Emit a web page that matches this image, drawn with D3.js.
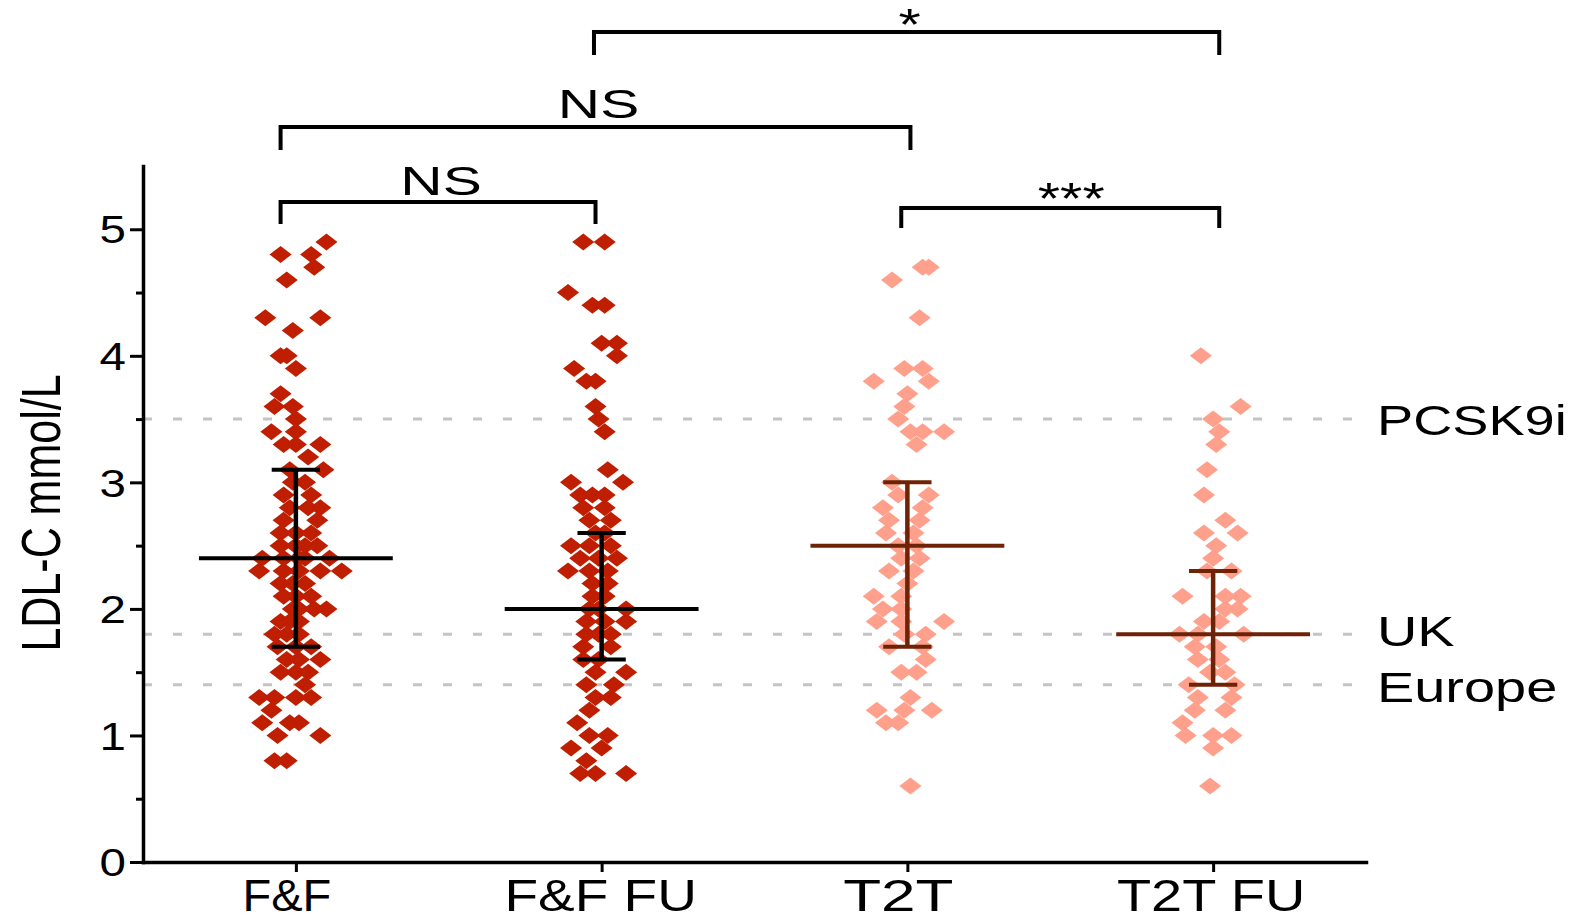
<!DOCTYPE html>
<html>
<head>
<meta charset="utf-8">
<script src="https://cdn.jsdelivr.net/npm/d3@7"></script>
<style>
  html, body { margin: 0; padding: 0; background: #fff; }
  svg { display: block; }
  text { font-family: "Liberation Sans", Arial, sans-serif; fill: #000; }
</style>
</head>
<body>
<div id="chart"></div>
<script>
// categories and summary values
const groups = ["F&F", "F&F FU", "T2T", "T2T FU"];
const means = [2.4, 2.0, 2.5, 1.8];
const sdLow = [1.7, 1.6, 1.7, 1.4];
const sdHigh = [3.1, 2.6, 3.0, 2.3];

// points: [LDL-C value, jitter in category units]
const ffPoints = [
  [4.9, 0.10], [4.8, -0.05], [4.8, 0.05], [4.7, 0.06], [4.6, -0.03],
  [4.3, -0.10], [4.3, 0.08], [4.2, -0.01], [4.0, -0.05], [4.0, -0.03],
  [3.9, 0.00], [3.7, -0.05], [3.6, -0.07], [3.6, -0.01], [3.5, 0.00],
  [3.4, -0.08], [3.4, 0.00], [3.3, -0.04], [3.3, 0.00], [3.3, 0.08],
  [3.2, 0.04], [3.1, -0.02], [3.1, 0.09], [3.0, -0.01], [3.0, 0.03],
  [2.9, -0.04], [2.9, 0.05], [2.8, -0.02], [2.8, 0.08], [2.8, 0.04],
  [2.7, -0.04], [2.7, 0.07], [2.6, -0.05], [2.6, 0.05], [2.6, 0.00],
  [2.5, -0.05], [2.5, 0.03], [2.5, 0.07], [2.5, 0.00],
  [2.4, -0.11], [2.4, -0.04], [2.4, 0.03], [2.4, 0.11], [2.4, 0.01],
  [2.3, -0.12], [2.3, -0.04], [2.3, 0.08], [2.3, 0.15], [2.3, 0.01],
  [2.2, -0.05], [2.2, 0.03], [2.2, -0.01], [2.1, 0.00], [2.1, -0.04], [2.1, 0.05],
  [2.0, -0.01], [2.0, 0.06], [2.0, 0.10], [2.0, 0.01],
  [1.9, -0.05], [1.9, 0.01], [1.9, -0.02], [1.8, -0.07], [1.8, -0.03], [1.8, 0.01],
  [1.7, -0.06], [1.7, 0.05], [1.7, 0.00], [1.6, -0.03], [1.6, 0.08], [1.6, 0.01],
  [1.5, -0.05], [1.5, 0.04], [1.5, 0.00], [1.4, 0.03],
  [1.3, -0.12], [1.3, -0.07], [1.3, 0.00], [1.3, 0.05], [1.2, -0.08],
  [1.1, -0.11], [1.1, -0.02], [1.1, 0.01], [1.0, -0.06], [1.0, 0.08],
  [0.8, -0.07], [0.8, -0.03]
];
const ffFuPoints = [
  [4.9, -0.06], [4.9, 0.01], [4.5, -0.11], [4.4, -0.03], [4.4, 0.01],
  [4.1, 0.00], [4.1, 0.05], [4.0, 0.05], [3.9, -0.09], [3.8, -0.05], [3.8, -0.02],
  [3.6, -0.02], [3.5, -0.01], [3.4, 0.01], [3.1, 0.02], [3.0, -0.10], [3.0, 0.07],
  [2.9, -0.07], [2.9, -0.03], [2.9, 0.01], [2.8, 0.01], [2.8, -0.06],
  [2.7, -0.04], [2.7, 0.03], [2.6, -0.02], [2.6, 0.01],
  [2.5, -0.10], [2.5, 0.03], [2.5, -0.04], [2.4, -0.07], [2.4, 0.05], [2.4, -0.01],
  [2.3, -0.11], [2.3, 0.02], [2.3, -0.04], [2.2, -0.03], [2.2, 0.02],
  [2.1, -0.03], [2.1, 0.01], [2.0, -0.04], [2.0, 0.08], [2.0, -0.01],
  [1.9, -0.05], [1.9, 0.08], [1.9, 0.01], [1.8, -0.05], [1.8, 0.03], [1.8, -0.01],
  [1.7, -0.06], [1.7, 0.03], [1.6, -0.06], [1.6, -0.01], [1.5, -0.02], [1.5, 0.08],
  [1.4, -0.05], [1.4, 0.04], [1.3, -0.02], [1.3, 0.03], [1.2, -0.04], [1.1, -0.08],
  [1.0, -0.04], [1.0, 0.02], [0.9, -0.10], [0.9, 0.00], [0.8, -0.05],
  [0.7, -0.07], [0.7, -0.02], [0.7, 0.08]
];
const t2tPoints = [
  [4.7, 0.05], [4.7, 0.07], [4.6, -0.05], [4.3, 0.04], [3.9, -0.01], [3.9, 0.05],
  [3.8, -0.11], [3.8, 0.07], [3.7, 0.00], [3.6, -0.01], [3.5, -0.03],
  [3.4, 0.01], [3.4, 0.05], [3.4, 0.12], [3.3, 0.03], [3.0, -0.05],
  [2.9, -0.03], [2.9, 0.07], [2.8, -0.08], [2.8, 0.05], [2.7, -0.06], [2.7, 0.04],
  [2.6, -0.07], [2.6, 0.02], [2.5, -0.03], [2.5, 0.03], [2.4, -0.02], [2.4, 0.04],
  [2.3, -0.06], [2.3, 0.02], [2.2, 0.00], [2.1, -0.11], [2.1, -0.02],
  [2.0, -0.08], [2.0, -0.02], [1.9, -0.10], [1.9, -0.02], [1.9, 0.12],
  [1.8, -0.01], [1.8, 0.06], [1.7, -0.06], [1.7, 0.05], [1.6, 0.06],
  [1.5, -0.02], [1.5, 0.03], [1.3, 0.01], [1.2, -0.10], [1.2, -0.01], [1.2, 0.08],
  [1.1, -0.07], [1.1, -0.03], [0.6, 0.01]
];
const t2tFuPoints = [
  [4.0, -0.04], [3.6, 0.09], [3.5, 0.00], [3.4, 0.02], [3.3, 0.01], [3.1, -0.02],
  [2.9, -0.03], [2.7, 0.04], [2.6, -0.03], [2.6, 0.08], [2.5, 0.01], [2.4, 0.00],
  [2.3, -0.02], [2.3, 0.06], [2.1, -0.10], [2.1, 0.04], [2.1, 0.09],
  [2.0, 0.04], [2.0, 0.08], [1.9, -0.03], [1.9, 0.02],
  [1.8, -0.11], [1.8, -0.05], [1.8, 0.10], [1.7, -0.06], [1.7, 0.01],
  [1.6, -0.05], [1.6, 0.02], [1.5, -0.01], [1.5, 0.04], [1.4, -0.08], [1.4, 0.07],
  [1.3, -0.05], [1.3, 0.06], [1.2, -0.06], [1.2, 0.04], [1.1, -0.10],
  [1.0, -0.09], [1.0, 0.00], [1.0, 0.06], [0.9, 0.00], [0.6, -0.01]
];

// target lines
const refValues = [3.5, 1.8, 1.4];
const refLabels = ["PCSK9i", "UK", "Europe"];

// significance brackets (ends in category units)
const bracketStart = [0.95, 0.95, 2.98, 1.975];
const bracketEnd = [1.98, 3.01, 4.02, 4.02];
const bracketLabels = ["NS", "NS", "***", "*"];

const yTicks = [0, 1, 2, 3, 4, 5];
const yMinorTicks = [0.5, 1.5, 2.5, 3.5, 4.5];

const width = 1582, height = 921;
const svg = d3.select("#chart").append("svg")
    .attr("width", width)
    .attr("height", height);

const x = d3.scaleLinear().domain([0.5, 4.5]).range([143, 1366]);
const y = d3.scaleLinear().domain([0, 5.5]).range([862, 166]);

const pointColor = ["#bf1f00", "#bf1f00", "#ffa08c", "#ffa08c"];
const barColor = ["#000000", "#000000", "#6e2306", "#6e2306"];
const allPoints = [ffPoints, ffFuPoints, t2tPoints, t2tFuPoints];

// text that is a bit wider than the font draws it
function wideText(parent, px, py, str, size, anchor, sx) {
    return parent.append("text")
        .attr("transform", "translate(" + px + "," + py + ") scale(" + sx + ",1)")
        .attr("text-anchor", anchor)
        .style("font-size", size + "px")
        .text(str);
}

// dashed target lines
svg.append("g").selectAll("line")
    .data(refValues)
    .enter()
    .append("line")
    .attr("x1", x(0.5))
    .attr("x2", x(4.5))
    .attr("y1", d => y(d))
    .attr("y2", d => y(d))
    .attr("stroke", "#c4c4c4")
    .attr("stroke-width", 3)
    .attr("stroke-dasharray", "9,21");

const labelShift = [16, 12, 17];
const labelStretch = [1.26, 1.3, 1.3];
refValues.forEach(function(v, i) {
    wideText(svg, 1377, y(v) + labelShift[i], refLabels[i], 43, "start", labelStretch[i]);
});

// diamond markers, wider than tall
const diamond = {
    draw: function(ctx, size) {
        const w = Math.sqrt(size) * 1.3 / 2, h = Math.sqrt(size) / 2;
        ctx.moveTo(0, -h);
        ctx.lineTo(w, 0);
        ctx.lineTo(0, h);
        ctx.lineTo(-w, 0);
        ctx.closePath();
    }
};
const marker = d3.symbol().type(diamond).size(17 * 17);

allPoints.forEach(function(pts, gi) {
    svg.append("g").selectAll("path")
        .data(pts)
        .enter()
        .append("path")
        .attr("d", marker)
        .attr("transform", d => "translate(" + x(gi + 1 + d[1]) + "," + y(d[0]) + ")")
        .attr("fill", pointColor[gi]);
});

// mean and SD bars
const meanHalf = 0.317, capHalf = 0.079;
groups.forEach(function(g, gi) {
    const c = gi + 1;
    const bar = svg.append("g")
        .attr("stroke", barColor[gi])
        .attr("stroke-width", 4);
    bar.append("line")
        .attr("x1", x(c)).attr("x2", x(c))
        .attr("y1", y(sdLow[gi])).attr("y2", y(sdHigh[gi]))
        .attr("stroke-width", 4.5);
    [sdLow[gi], sdHigh[gi]].forEach(function(v) {
        bar.append("line")
            .attr("x1", x(c - capHalf)).attr("x2", x(c + capHalf))
            .attr("y1", y(v)).attr("y2", y(v));
    });
    bar.append("line")
        .attr("x1", x(c - meanHalf)).attr("x2", x(c + meanHalf))
        .attr("y1", y(means[gi])).attr("y2", y(means[gi]));
});

// axes
const yAxis = svg.append("g")
    .attr("transform", "translate(" + x(0.5) + ",0)")
    .call(d3.axisLeft(y).tickValues(yTicks).tickSize(13).tickSizeOuter(0).tickFormat(d3.format("d")));
yAxis.selectAll(".tick text")
    .attr("x", null)
    .attr("dy", "0.36em")
    .attr("transform", "translate(-17,0) scale(1.25,1)")
    .style("font-size", "38px")
    .style("font-family", "'Liberation Sans', Arial, sans-serif");

const yMinor = svg.append("g")
    .attr("transform", "translate(" + x(0.5) + ",0)")
    .call(d3.axisLeft(y).tickValues(yMinorTicks).tickSize(7).tickSizeOuter(0).tickFormat(""));
yMinor.select(".domain").remove();

const xAxis = svg.append("g")
    .attr("transform", "translate(0," + y(0) + ")")
    .call(d3.axisBottom(x).tickValues([1, 2, 3, 4]).tickSize(10).tickSizeOuter(0).tickFormat(""));

svg.selectAll(".domain")
    .attr("stroke-width", 3.5)
    .attr("stroke-linecap", "square");
svg.selectAll(".tick line").attr("stroke-width", 3);

const groupStretch = [1.07, 1.25, 1.41, 1.27];
const groupShift = [-9, -1, -9, -2];
groups.forEach(function(g, gi) {
    wideText(svg, x(gi + 1) + groupShift[gi], 911, g, 44, "middle", groupStretch[gi]);
});

// y title
svg.append("text")
    .attr("transform", "translate(60,513) scale(1.3,1) rotate(-90)")
    .attr("text-anchor", "middle")
    .style("font-size", "43px")
    .text("LDL-C mmol/L");

// significance brackets
const bracketBar = [202, 127, 208, 32];
const bracketLeg = [224, 150, 228, 55];
const bracketText = [195, 118, 214, 40];
const textShift = [3, 3, 11, 3];
bracketLabels.forEach(function(lab, i) {
    svg.append("path")
        .attr("d", "M" + x(bracketStart[i]) + "," + bracketLeg[i] +
            "V" + bracketBar[i] + "H" + x(bracketEnd[i]) + "V" + bracketLeg[i])
        .attr("fill", "none")
        .attr("stroke", "#000")
        .attr("stroke-width", 4);
    const mid = (x(bracketStart[i]) + x(bracketEnd[i])) / 2;
    const isStar = lab.indexOf("*") >= 0;
    wideText(svg, mid + textShift[i], bracketText[i], lab, isStar ? 44 : 41, "middle", isStar ? 1.3 : 1.43);
});
</script>
</body>
</html>
